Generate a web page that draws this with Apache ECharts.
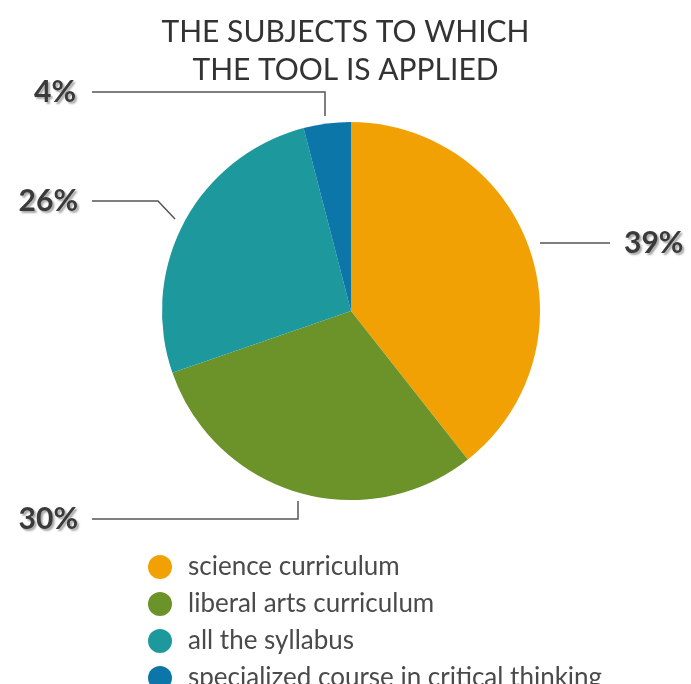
<!DOCTYPE html>
<html><head><meta charset="utf-8">
<script src="https://cdn.jsdelivr.net/npm/echarts@6/dist/echarts.min.js"></script>
<style>html,body{margin:0;padding:0;background:#fff;}#c{width:691px;height:684px;}</style>
</head><body><div id="c"></div>
<script>
const categories = ['science curriculum', 'liberal arts curriculum', 'all the syllabus', 'specialized course in critical thinking'];
const values = [39, 30, 26, 4];
const labels = ['39%', '30%', '26%', '4%'];
const colors = ['#F2A104', '#6B9329', '#1D999E', '#0B76A7'];

// label placement (styling): anchor + leader line path
const labelSpots = [
  {x: 624, y: 243, align: 'left', line: [[540, 243], [610, 243]]},
  {x: 78, y: 519, align: 'right', line: [[298, 501], [298, 519], [92, 519]]},
  {x: 78, y: 201, align: 'right', line: [[175, 219], [158, 201], [92, 201]]},
  {x: 76, y: 92, align: 'right', line: [[325, 116], [325, 92], [92, 92]]}
];

const chart = echarts.init(document.getElementById('c'), null, {renderer: 'canvas'});
chart.setOption({
  animation: false,
  title: {
    text: 'THE SUBJECTS TO WHICH\nTHE TOOL IS APPLIED',
    left: 'center', top: 8,
    textStyle: {fontFamily: 'Lato', fontWeight: 'normal', fontSize: 30, lineHeight: 38, color: '#333'}
  },
  legend: {
    orient: 'vertical', left: 148, top: 554, padding: 0, height: 220, width: 540,
    itemWidth: 24, itemHeight: 24, itemGap: 11, icon: 'circle',
    textStyle: {fontFamily: 'Lato', fontWeight: 'normal', fontSize: 26, lineHeight: 24, color: '#4a4a4a', padding: [0, 0, 0, 11]},
    data: categories
  },
  series: [{
    type: 'pie',
    center: [351, 311], radius: 189,
    startAngle: 90, clockwise: true,
    data: categories.map((n, i) => ({name: n, value: values[i], itemStyle: {color: colors[i]}})),
    label: {
      show: true,
      formatter: p => labels[p.dataIndex],
      fontFamily: 'Lato', fontWeight: 'bold', fontSize: 30, color: '#3a3a3a',
      textShadowColor: 'rgba(0,0,0,0.35)', textShadowOffsetX: 2, textShadowOffsetY: 2, textShadowBlur: 2
    },
    labelLine: {show: true, lineStyle: {color: '#555', width: 1.5}},
    labelLayout: function (p) {
      const s = labelSpots[p.dataIndex];
      return {x: s.x, y: s.y, align: s.align, verticalAlign: 'middle', labelLinePoints: s.line};
    }
  }]
});
</script></body></html>
